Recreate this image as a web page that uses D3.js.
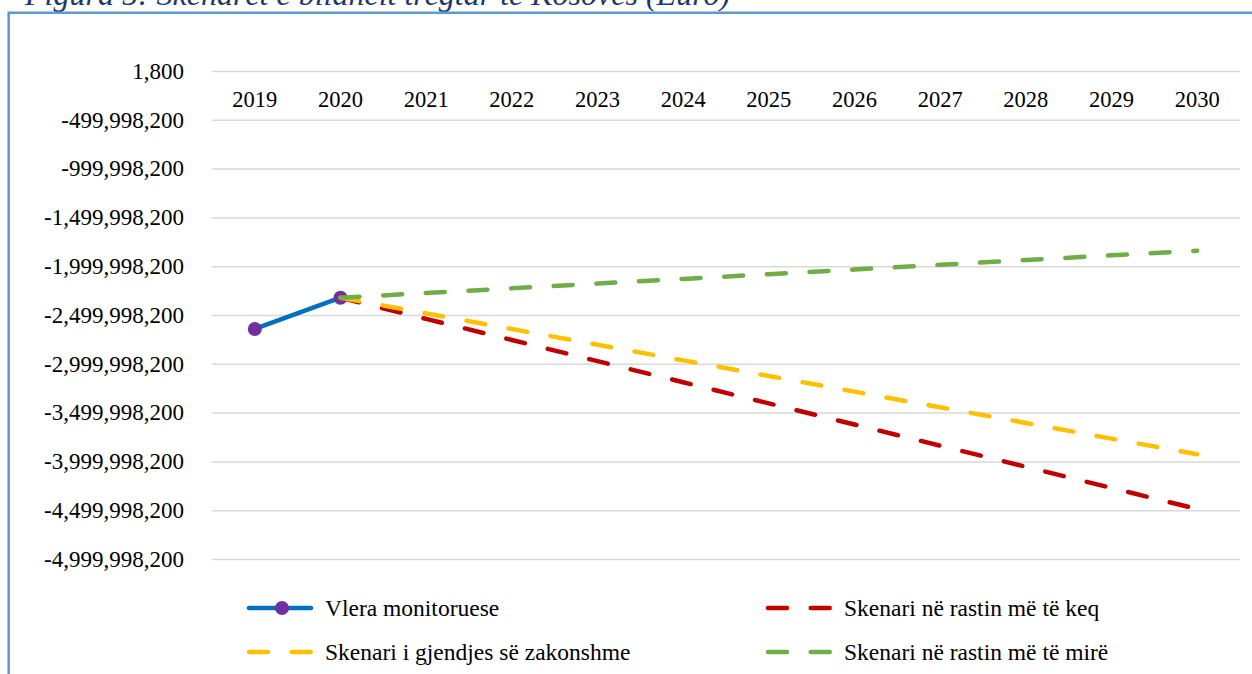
<!DOCTYPE html>
<html>
<head>
<meta charset="utf-8">
<script src="https://cdn.jsdelivr.net/npm/d3@7"></script>
<style>
  html, body { margin: 0; padding: 0; background: #fff; }
  svg { display: block; }
  text { font-family: "Liberation Serif", "Times New Roman", serif; fill: #000; }
</style>
</head>
<body>
<svg id="chart" width="1252" height="674"></svg>
<script>
// Trade balance of Kosovo, euro: monitored values and three scenarios
const years = ["2019","2020","2021","2022","2023","2024","2025","2026","2027","2028","2029","2030"];
const monitored = [-2643000000, -2323000000, null, null, null, null, null, null, null, null, null, null];
const worstCase = [null, -2323000000, -2540000000, -2756000000, -2973000000, -3189000000, -3406000000, -3622000000, -3839000000, -4055000000, -4272000000, -4488000000];
const usualCase = [null, -2323000000, -2483000000, -2644000000, -2804000000, -2965000000, -3125000000, -3285000000, -3446000000, -3606000000, -3767000000, -3927000000];
const bestCase  = [null, -2323000000, -2275000000, -2227000000, -2178000000, -2130000000, -2082000000, -2034000000, -1986000000, -1937000000, -1889000000, -1841000000];
const yTicks = [1800, -499998200, -999998200, -1499998200, -1999998200, -2499998200, -2999998200, -3499998200, -3999998200, -4499998200, -4999998200];
const yTickLabels = ["1,800", "-499,998,200", "-999,998,200", "-1,499,998,200", "-1,999,998,200", "-2,499,998,200",
  "-2,999,998,200", "-3,499,998,200", "-3,999,998,200", "-4,499,998,200", "-4,999,998,200"];
const seriesNames = ["Vlera monitoruese", "Skenari në rastin më të keq", "Skenari i gjendjes së zakonshme", "Skenari në rastin më të mirë"];
const titleText = "Figura 5: Skenarët e bilancit tregtar të Kosovës (Euro)";

const svg = d3.select("#chart");
const W = 1252, H = 674;
const plot = { left: 212, right: 1240, top: 71, bottom: 559 };
const serif = '"Liberation Serif", "Times New Roman", serif';

// Caption above the frame
svg.append("text")
  .attr("x", 25).attr("y", 5)
  .style("font-family", serif)
  .style("font-style", "italic")
  .style("font-size", "32px")
  .style("fill", "#1F3864")
  .text(titleText);

// Frame around the chart
svg.append("path")
  .attr("d", `M8.7,${H + 5} V12.8 H${W + 5}`)
  .attr("fill", "none")
  .attr("stroke", "#5B9BD5")
  .attr("stroke-width", 2.5);

const x = d3.scaleBand().domain(years).range([plot.left, plot.right]).paddingInner(0).paddingOuter(0);
const xc = d => x(d) + x.bandwidth() / 2;
const y = d3.scaleLinear().domain([-4999998200, 1800]).range([plot.bottom, plot.top]);

// Horizontal gridlines with value labels
const yAxis = d3.axisLeft(y).tickValues(yTicks).tickSize(-(plot.right - plot.left)).tickPadding(28)
  .tickFormat((d, i) => yTickLabels[i]);
const gy = svg.append("g").attr("transform", `translate(${plot.left},0)`).call(yAxis)
  .attr("font-family", serif).attr("font-size", 23);
gy.select(".domain").remove();
gy.selectAll(".tick line").attr("stroke", "#D9D9D9").attr("stroke-width", 1.5);
gy.selectAll(".tick text").style("font-family", serif).style("font-size", "23px")
  .attr("fill", "#000").attr("text-anchor", "end");

// Category labels sit just under the top axis line
const xAxis = d3.axisBottom(x).tickSize(0).tickPadding(20);
const gx = svg.append("g").attr("transform", `translate(0,${y(1800)})`).call(xAxis)
  .attr("font-family", serif).attr("font-size", 22);
gx.select(".domain").remove();
gx.selectAll(".tick text").style("font-family", serif).style("font-size", "22.5px").attr("fill", "#000");

const line = d3.line()
  .defined(d => d.v !== null)
  .x(d => xc(d.year))
  .y(d => y(d.v));

const toPts = arr => years.map((yr, i) => ({ year: yr, v: arr[i] }));

const dashPattern = "19 23.7";
const styles = [
  { data: monitored, color: "#0070C0", dash: null },
  { data: worstCase, color: "#C00000", dash: dashPattern },
  { data: usualCase, color: "#FFC000", dash: dashPattern },
  { data: bestCase,  color: "#70AD47", dash: dashPattern }
];

// Monitored series first, with its markers, then the scenarios on top
const lines = svg.append("g");
lines.append("path")
  .datum(toPts(monitored))
  .attr("d", line)
  .attr("fill", "none")
  .attr("stroke", styles[0].color)
  .attr("stroke-width", 4.5)
  .attr("stroke-linecap", "round")
  .attr("stroke-linejoin", "round");
lines.selectAll("circle.m")
  .data(toPts(monitored).filter(d => d.v !== null))
  .join("circle")
  .attr("class", "m")
  .attr("cx", d => xc(d.year))
  .attr("cy", d => y(d.v))
  .attr("r", 7)
  .attr("fill", "#7030A0");

styles.slice(1).forEach(s => {
  lines.append("path")
    .datum(toPts(s.data))
    .attr("d", line)
    .attr("fill", "none")
    .attr("stroke", s.color)
    .attr("stroke-width", 4.5)
    .attr("stroke-dasharray", s.dash)
    .attr("stroke-linecap", "round")
    .attr("stroke-linejoin", "round");
});

// Legend: two columns, two rows
const legendPos = [
  { x: 249, y: 608 },
  { x: 768, y: 608 },
  { x: 249, y: 652 },
  { x: 768, y: 652 }
];
const lg = svg.append("g");
styles.forEach((s, i) => {
  const p = legendPos[i];
  lg.append("line")
    .attr("x1", p.x).attr("x2", p.x + 62)
    .attr("y1", p.y).attr("y2", p.y)
    .attr("stroke", s.color)
    .attr("stroke-width", 4.5)
    .attr("stroke-linecap", "round")
    .attr("stroke-dasharray", s.dash);
  if (i === 0) {
    lg.append("circle").attr("cx", p.x + 33).attr("cy", p.y).attr("r", 7).attr("fill", "#7030A0");
  }
  lg.append("text")
    .attr("x", p.x + 76).attr("y", p.y)
    .attr("dy", "0.35em")
    .style("font-family", serif)
    .style("font-size", "23.5px")
    .text(seriesNames[i]);
});
</script>
</body>
</html>
